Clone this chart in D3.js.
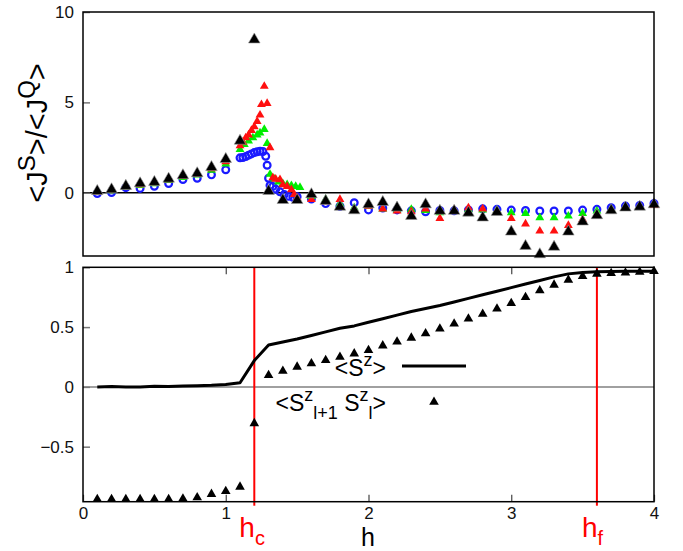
<!DOCTYPE html>
<html>
<head>
<meta charset="utf-8">
<script src="https://cdn.jsdelivr.net/npm/d3@7"></script>
<style>
  body { margin: 0; background: #fff; }
  svg { font-family: 'Liberation Sans', Arial, sans-serif; }
</style>
</head>
<body>
<svg width="683" height="551"></svg>
<script>
// h grid (0.1 steps) shared by the black series and the lower panel
const hGrid = [0.1,0.2,0.3,0.4,0.5,0.6,0.7,0.8,0.9,1.0,1.1,1.2,1.3,1.4,1.5,1.6,1.7,1.8,1.9,2.0,
  2.1,2.2,2.3,2.4,2.5,2.6,2.7,2.8,2.9,3.0,3.1,3.2,3.3,3.4,3.5,3.6,3.7,3.8,3.9,4.0];

// upper panel: <J^S>/<J^Q>
const blackJ = [0.09,0.18,0.37,0.51,0.59,0.77,0.96,1.07,1.41,1.86,2.87,8.47,0.09,-0.41,-0.41,-0.09,-0.46,-0.78,-0.98,-0.65,
  -0.52,-0.83,-1.29,-0.65,-1.01,-1.01,-1.11,-1.38,-1.07,-2.16,-2.95,-3.41,-3.0,-2.16,-1.6,-1.25,-0.98,-0.83,-0.78,-0.65];

const blueH = [0.1,0.2,0.3,0.4,0.5,0.6,0.7,0.8,0.9,1.0,
  1.1,1.12,1.14,1.16,1.18,1.2,1.22,1.24,1.26,1.28,1.29,1.3,1.31,1.33,1.35,1.38,1.41,1.44,1.47,1.5,
  1.6,1.7,1.8,1.9,2.0,2.1,2.2,2.3,2.4,2.5,2.6,2.7,2.8,2.9,3.0,3.1,3.2,3.3,3.4,3.5,3.6,3.7,3.8,3.9,4.0];
const blueJ = [-0.04,0.01,0.28,0.24,0.36,0.51,0.73,0.8,0.99,1.27,
  1.93,1.95,2.0,2.08,2.15,2.22,2.27,2.3,2.28,2.02,1.52,0.8,0.4,0.35,0.2,0.05,-0.1,-0.2,-0.25,-0.22,
  -0.35,-0.6,-0.75,-0.55,-0.95,-0.85,-0.95,-1.0,-1.05,-0.98,-1.0,-0.95,-0.89,-0.92,-0.96,-0.98,-1.01,-1.01,-1.01,-0.96,-0.92,-0.83,-0.74,-0.7,-0.59];

const greenH = [0.1,0.2,0.3,0.4,0.5,0.6,0.7,0.8,0.9,1.0,
  1.1,1.13,1.16,1.19,1.22,1.24,1.27,1.29,1.31,1.34,1.37,1.4,1.43,1.46,1.49,1.52,
  1.6,1.7,1.8,1.9,2.0,2.1,2.2,2.3,2.4,2.5,2.6,2.7,2.8,2.9,3.0,3.1,3.2,3.3,3.4,3.5,3.6,3.7,3.8,3.9,4.0];
const greenJ = [0.05,0.12,0.32,0.4,0.5,0.68,0.85,0.98,1.25,1.6,
  2.4,2.67,2.86,3.04,3.2,3.31,3.5,2.73,1.02,0.76,0.6,0.5,0.45,0.4,0.35,0.3,
  -0.2,-0.37,-0.6,-0.83,-0.75,-0.89,-0.95,-0.92,-0.98,-1.11,-1.0,-0.92,-0.95,-0.98,-1.11,-1.14,-1.38,-1.38,-1.29,-1.14,-1.01,-0.92,-0.83,-0.78,-0.65];

const redH = [0.1,0.2,0.3,0.4,0.5,0.6,0.7,0.8,0.9,1.0,
  1.1,1.12,1.14,1.16,1.18,1.2,1.22,1.24,1.25,1.27,1.29,1.31,1.33,1.35,1.38,1.4,1.43,1.46,1.48,1.5,
  1.6,1.7,1.8,1.9,2.0,2.1,2.2,2.3,2.4,2.5,2.6,2.7,2.8,2.9,3.0,3.1,3.2,3.3,3.4,3.5,3.6,3.7,3.8,3.9,4.0];
const redJ = [0.05,0.15,0.33,0.45,0.55,0.72,0.9,1.02,1.33,1.72,
  2.6,2.8,3.04,3.2,3.45,3.65,3.95,4.3,4.88,5.89,4.94,2.49,0.83,0.75,0.72,0.44,0.35,0.17,-0.1,-0.28,
  -0.37,-0.5,-0.37,-0.92,-0.75,-0.89,-1.01,-1.05,-0.89,-1.42,-0.96,-0.83,-0.89,-1.01,-1.42,-1.72,-2.12,-2.12,-1.81,-1.48,-1.2,-0.98,-0.85,-0.8,-0.7];

// lower panel: <S^z> (line) and <S^z_{l+1} S^z_l> (triangles)
const szMean = [0.0,0.003,0.0,0.0,0.005,0.003,0.008,0.01,0.013,0.02,0.035,0.22,0.35,0.375,0.40,0.43,0.46,0.49,0.51,0.54,
  0.57,0.60,0.63,0.655,0.68,0.71,0.74,0.77,0.80,0.83,0.86,0.89,0.92,0.945,0.957,0.962,0.965,0.966,0.967,0.967];
const szCorr = [-0.94,-0.94,-0.94,-0.94,-0.94,-0.94,-0.935,-0.925,-0.897,-0.872,-0.836,-0.305,0.097,0.133,0.167,0.195,0.222,0.25,0.278,0.306,
  0.345,0.378,0.41,0.447,0.486,0.528,0.57,0.61,0.653,0.70,0.75,0.806,0.853,0.895,0.925,0.945,0.95,0.955,0.96,0.967];

const xTicks = [0,1,2,3,4];
const topTicks = [0,5,10];
const botTicks = [-0.5,0,0.5,1];
const hc = 1.2;
const hf = 3.6;

const svg = d3.select('svg');

const xScale = d3.scaleLinear().domain([0, 4]).range([83, 654]);
const yTop = d3.scaleLinear().domain([-3.5, 10]).range([256, 12]);
const yBot = d3.scaleLinear().domain([-0.96, 1]).range([501.7, 267.3]);

const zip = (hs, vs) => hs.map((h, i) => ({ h, v: vs[i] }));
const tickFmt = d => Number.isInteger(d) ? String(d) : d3.format('.1f')(d);

// ---------- upper panel ----------
const topG = svg.append('g');

topG.append('line')
  .attr('x1', xScale(0)).attr('x2', xScale(4))
  .attr('y1', yTop(0)).attr('y2', yTop(0))
  .attr('stroke', '#000').attr('stroke-width', 1.5);

const topAxis = topG.append('g')
  .attr('transform', `translate(${xScale(0)},0)`)
  .call(d3.axisLeft(yTop).tickValues(topTicks).tickSize(-7).tickPadding(9).tickFormat(tickFmt));
topAxis.select('.domain').remove();
topAxis.selectAll('.tick line').attr('stroke', '#777').attr('stroke-width', 1.5);
topAxis.selectAll('text').attr('font-size', 17).attr('fill', '#111')
  .attr('font-family', "'Liberation Sans', Arial, sans-serif");

topG.selectAll('circle.blue').data(zip(blueH, blueJ))
  .enter().append('circle')
    .attr('class', 'blue')
    .attr('cx', d => xScale(d.h))
    .attr('cy', d => yTop(d.v))
    .attr('r', 3.4)
    .attr('fill', 'none')
    .attr('stroke', '#1a1aff')
    .attr('stroke-width', 2.2);

const triTop = d3.symbol().type(d3.symbolTriangle);

topG.selectAll('path.green').data(zip(greenH, greenJ))
  .enter().append('path')
    .attr('class', 'green')
    .attr('d', triTop.size(34))
    .attr('transform', d => `translate(${xScale(d.h)},${yTop(d.v)})`)
    .attr('fill', '#00ee00');

topG.selectAll('path.red').data(zip(redH, redJ))
  .enter().append('path')
    .attr('class', 'red')
    .attr('d', triTop.size(34))
    .attr('transform', d => `translate(${xScale(d.h)},${yTop(d.v)})`)
    .attr('fill', '#ff1010');

topG.selectAll('path.black').data(zip(hGrid, blackJ))
  .enter().append('path')
    .attr('class', 'black')
    .attr('d', triTop.size(58))
    .attr('transform', d => `translate(${xScale(d.h)},${yTop(d.v)})`)
    .attr('fill', '#000')
    .attr('stroke', '#999')
    .attr('stroke-width', 0.6);

topG.append('rect')
  .attr('x', xScale(0)).attr('y', yTop(10))
  .attr('width', xScale(4) - xScale(0)).attr('height', yTop(-3.5) - yTop(10))
  .attr('fill', 'none').attr('stroke', '#000').attr('stroke-width', 1.5);

const yLabel = topG.append('text')
  .attr('transform', 'translate(47,133) rotate(-90)')
  .attr('text-anchor', 'middle')
  .attr('font-size', 29)
  .attr('fill', '#000');
yLabel.append('tspan').text('<J');
yLabel.append('tspan').attr('dy', -12).attr('font-size', 24).text('S');
yLabel.append('tspan').attr('dy', 12).text('>/<J');
yLabel.append('tspan').attr('dy', -12).attr('font-size', 24).text('Q');
yLabel.append('tspan').attr('dy', 12).text('>');

// ---------- lower panel ----------
const botG = svg.append('g');

botG.append('line')
  .attr('x1', xScale(0)).attr('x2', xScale(4))
  .attr('y1', yBot(0)).attr('y2', yBot(0))
  .attr('stroke', '#808080').attr('stroke-width', 1.5);

const botY = botG.append('g')
  .attr('transform', `translate(${xScale(0)},0)`)
  .call(d3.axisLeft(yBot).tickValues(botTicks).tickSize(-7).tickPadding(9).tickFormat(tickFmt));
botY.select('.domain').remove();
botY.selectAll('.tick line').attr('stroke', '#777').attr('stroke-width', 1.5);
botY.selectAll('text').attr('font-size', 17).attr('fill', '#111')
  .attr('font-family', "'Liberation Sans', Arial, sans-serif");

const botX = botG.append('g')
  .attr('transform', `translate(0,${yBot(-0.96)})`)
  .call(d3.axisBottom(xScale).tickValues(xTicks).tickSize(-7).tickPadding(5).tickFormat(tickFmt));
botX.select('.domain').remove();
botX.selectAll('.tick line').attr('stroke', '#444').attr('stroke-width', 1.2);
botX.selectAll('text').attr('font-size', 17).attr('fill', '#111')
  .attr('font-family', "'Liberation Sans', Arial, sans-serif");

const botXTop = botG.append('g')
  .attr('transform', `translate(0,${yBot(1)})`)
  .call(d3.axisTop(xScale).tickValues([1,2,3]).tickSize(-7).tickFormat(''));
botXTop.select('.domain').remove();
botXTop.selectAll('.tick line').attr('stroke', '#444').attr('stroke-width', 1.2);

// critical fields
[hc, hf].forEach(v => {
  botG.append('line')
    .attr('x1', xScale(v)).attr('x2', xScale(v))
    .attr('y1', yBot(1)).attr('y2', yBot(-0.96) + 4)
    .attr('stroke', '#ff0000').attr('stroke-width', 2);
});

botG.append('path')
  .datum(zip(hGrid, szMean))
  .attr('fill', 'none')
  .attr('stroke', '#000')
  .attr('stroke-width', 3)
  .attr('stroke-linejoin', 'round')
  .attr('d', d3.line().x(d => xScale(d.h)).y(d => yBot(d.v)));

const triBot = d3.symbol().type(d3.symbolTriangle).size(40);
botG.selectAll('path.corr').data(zip(hGrid, szCorr))
  .enter().append('path')
    .attr('class', 'corr')
    .attr('d', triBot)
    .attr('transform', d => `translate(${xScale(d.h)},${yBot(d.v)})`)
    .attr('fill', '#000');

botG.append('rect')
  .attr('x', xScale(0)).attr('y', yBot(1))
  .attr('width', xScale(4) - xScale(0)).attr('height', yBot(-0.96) - yBot(1))
  .attr('fill', 'none').attr('stroke', '#000').attr('stroke-width', 1.5);

// legend
const leg1 = botG.append('text')
  .attr('x', 386).attr('y', 376)
  .attr('text-anchor', 'end')
  .attr('font-size', 23);
leg1.append('tspan').text('<S');
leg1.append('tspan').attr('dy', -10).attr('font-size', 18).text('z');
leg1.append('tspan').attr('dy', 10).text('>');
botG.append('line')
  .attr('x1', 402).attr('x2', 466).attr('y1', 366).attr('y2', 366)
  .attr('stroke', '#000').attr('stroke-width', 3);

const leg2 = botG.append('text')
  .attr('x', 386).attr('y', 411)
  .attr('text-anchor', 'end')
  .attr('font-size', 23);
leg2.append('tspan').text('<S');
leg2.append('tspan').attr('dy', -10).attr('font-size', 18).text('z');
leg2.append('tspan').attr('dy', 18).attr('font-size', 18).text('l+1');
leg2.append('tspan').attr('dy', -8).text(' S');
leg2.append('tspan').attr('dy', -10).attr('font-size', 18).text('z');
leg2.append('tspan').attr('dy', 18).attr('font-size', 18).text('l');
leg2.append('tspan').attr('dy', -8).text('>');
botG.append('path')
  .attr('d', triBot)
  .attr('transform', 'translate(434,402)')
  .attr('fill', '#000');

// x axis labels
botG.append('text')
  .attr('x', 368).attr('y', 545.5)
  .attr('text-anchor', 'middle')
  .attr('font-size', 25)
  .text('h');

[[hc, 'c'], [hf, 'f']].forEach(([v, s]) => {
  const t = botG.append('text')
    .attr('x', xScale(v) - 15).attr('y', 537)
    .attr('font-size', 28)
    .attr('fill', '#ff0000');
  t.append('tspan').text('h');
  t.append('tspan').attr('dy', 8).attr('font-size', 20).text(s);
});
</script>
</body>
</html>
